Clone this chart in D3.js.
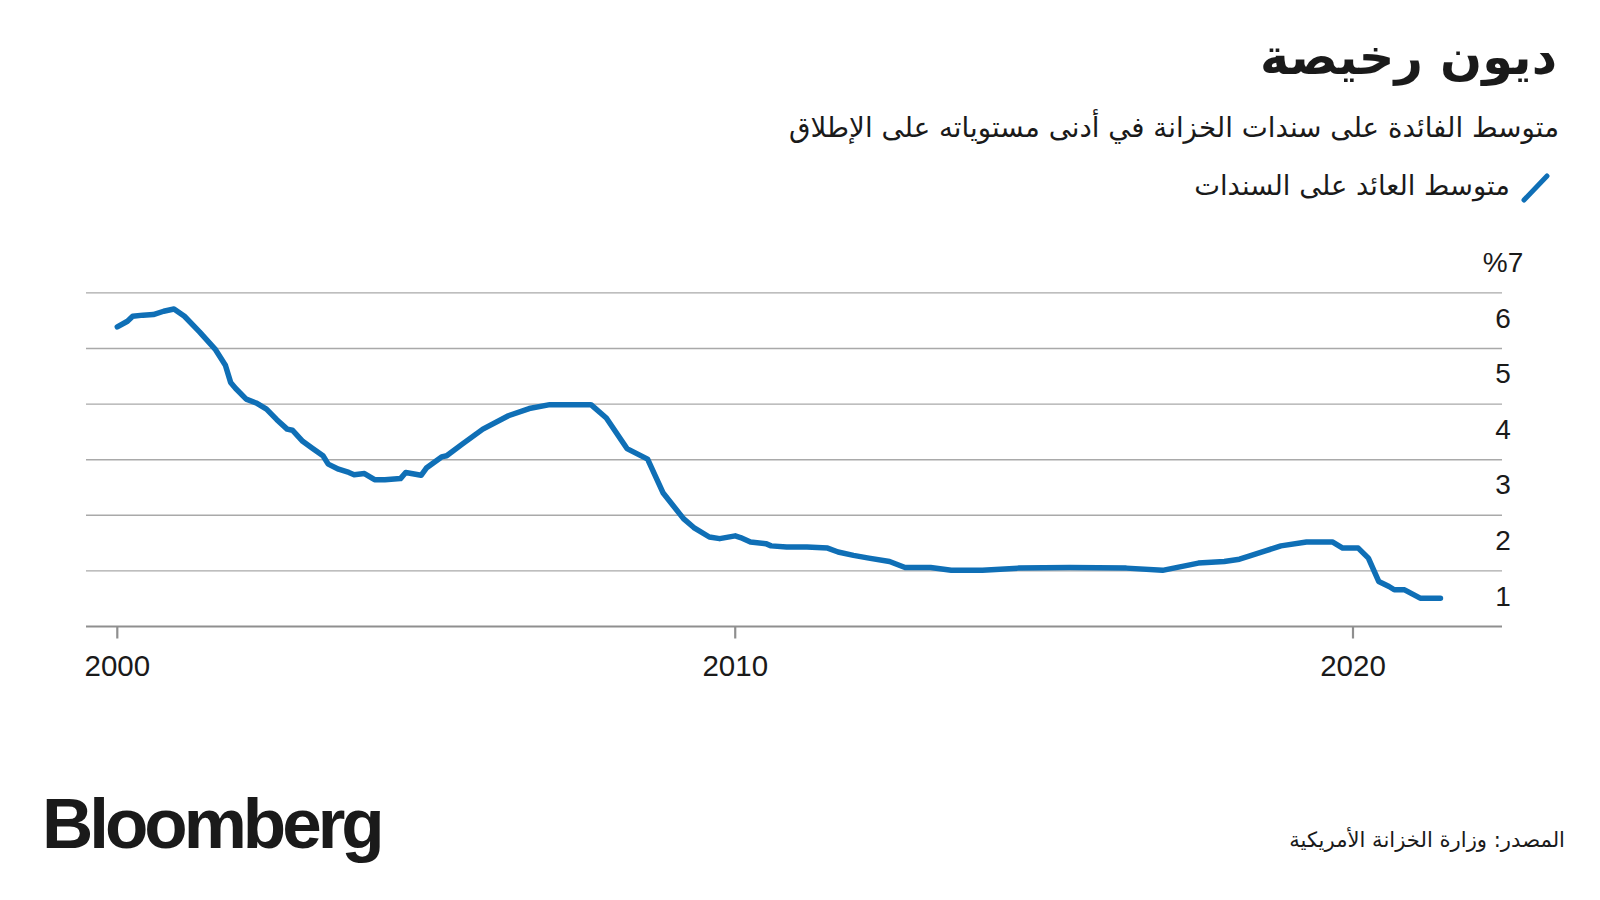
<!DOCTYPE html>
<html>
<head>
<meta charset="utf-8">
<script src="https://cdn.jsdelivr.net/npm/d3@7"></script>
<style>
  html, body { margin: 0; padding: 0; background: #fff; }
  svg { display: block; }
</style>
</head>
<body>
<svg id="chart" width="1600" height="900"></svg>
<script>
// ---- Data ----
const dates = [
  "2000-01","2000-03","2000-04","2000-06","2000-08","2000-10","2000-12",
  "2001-02","2001-05","2001-08","2001-10","2001-11","2001-12",
  "2002-02","2002-04","2002-06","2002-08","2002-10","2002-11",
  "2003-01","2003-03","2003-05","2003-06","2003-08","2003-10","2003-11",
  "2004-01","2004-03","2004-05","2004-08","2004-09","2004-12",
  "2005-01","2005-04","2005-05","2005-08","2005-12",
  "2006-05","2006-09",
  "2007-01","2007-05","2007-09","2007-12",
  "2008-04","2008-08","2008-11",
  "2009-03","2009-05","2009-08","2009-10",
  "2010-01","2010-02","2010-04","2010-07","2010-08","2010-11",
  "2011-03","2011-07","2011-09","2011-12",
  "2012-03","2012-07","2012-10",
  "2013-03","2013-07",
  "2014-01","2014-08",
  "2015-06",
  "2016-05","2016-12",
  "2017-07","2017-12",
  "2018-03","2018-05","2018-08","2018-11",
  "2019-04","2019-09","2019-11",
  "2020-02","2020-04","2020-06","2020-08","2020-09","2020-11",
  "2021-02","2021-06"
];
const values = [
  6.39,6.49,6.58,6.60,6.61,6.67,6.71,
  6.58,6.30,5.99,5.70,5.39,5.28,
  5.09,5.02,4.91,4.72,4.55,4.53,
  4.33,4.20,4.07,3.92,3.83,3.77,3.73,
  3.75,3.64,3.64,3.66,3.77,3.72,
  3.85,4.05,4.07,4.28,4.55,
  4.79,4.92,
  4.99,4.99,4.99,4.75,
  4.20,4.01,3.40,
  2.94,2.78,2.61,2.58,
  2.63,2.60,2.52,2.49,2.45,2.43,
  2.43,2.41,2.34,2.28,
  2.23,2.17,2.06,
  2.06,2.01,
  2.01,2.05,
  2.06,
  2.05,2.01,
  2.14,2.17,
  2.21,2.27,2.36,2.45,
  2.52,2.52,2.41,
  2.41,2.23,1.81,1.72,1.66,1.66,
  1.51,1.51
];
const yTicks = [1, 2, 3, 4, 5, 6, 7];
const xTickYears = ["2000", "2010", "2020"];

const title = "ديون رخيصة";
const subtitle = "متوسط الفائدة على سندات الخزانة في أدنى مستوياته على الإطلاق";
const legendLabel = "متوسط العائد على السندات";
const sourceText = "المصدر: وزارة الخزانة الأمريكية";

// ---- Layout ----
const svg = d3.select("#chart");
const parse = d3.timeParse("%Y-%m");
const data = dates.map((d, i) => ({ date: parse(d), value: values[i] }));

const x = d3.scaleTime()
  .domain([parse("2000-01"), parse("2020-01")])
  .range([117.3, 1353]);
const y = d3.scaleLinear().domain([1, 7]).range([626.5, 292.9]);

const gridLeft = 86, gridRight = 1502;
const arabicFont = "'DejaVu Sans', 'Noto Sans', sans-serif";
const numFont = "'Liberation Sans', Arial, Helvetica, sans-serif";
const blue = "#0f6fb6";
const ink = "#1a1a1a";

// gridlines
svg.append("g").selectAll("line")
  .data(yTicks)
  .join("line")
  .attr("x1", gridLeft).attr("x2", gridRight)
  .attr("y1", d => y(d)).attr("y2", d => y(d))
  .attr("stroke", d => d === 1 ? "#8f8f8f" : "#a9a9a9")
  .attr("stroke-width", d => d === 1 ? 2.2 : 1.4);

// y labels
svg.append("g").selectAll("text")
  .data(yTicks)
  .join("text")
  .attr("x", 1503)
  .attr("y", d => y(d) - 21)
  .attr("text-anchor", "middle")
  .attr("font-family", numFont)
  .attr("font-size", 28)
  .attr("fill", ink)
  .text(d => d === 7 ? "%7" : String(d));

// x ticks
const xTickDates = xTickYears.map(s => d3.timeParse("%Y")(s));
svg.append("g").selectAll("line")
  .data(xTickDates)
  .join("line")
  .attr("x1", d => x(d)).attr("x2", d => x(d))
  .attr("y1", y(1)).attr("y2", y(1) + 12)
  .attr("stroke", "#8f8f8f")
  .attr("stroke-width", 2.2);

svg.append("g").selectAll("text")
  .data(xTickDates)
  .join("text")
  .attr("x", d => x(d))
  .attr("y", 676)
  .attr("text-anchor", "middle")
  .attr("font-family", numFont)
  .attr("font-size", 29.5)
  .attr("fill", ink)
  .text(d => d3.timeFormat("%Y")(d));

// line
const line = d3.line()
  .x(d => x(d.date))
  .y(d => y(d.value));

svg.append("path")
  .datum(data)
  .attr("d", line)
  .attr("fill", "none")
  .attr("stroke", blue)
  .attr("stroke-width", 5.5)
  .attr("stroke-linejoin", "round")
  .attr("stroke-linecap", "round");

// helper: fit an Arabic text to a target width by adjusting font size
function fitText(sel, targetWidth) {
  const node = sel.node();
  const fs = parseFloat(sel.attr("font-size"));
  const w = node.getComputedTextLength();
  if (w > 0) sel.attr("font-size", fs * targetWidth / w);
  return sel;
}

// title & subtitle
fitText(svg.append("text")
  .attr("x", 1557).attr("y", 74)
  .attr("text-anchor", "end")
  .attr("font-family", arabicFont)
  .attr("font-weight", "bold")
  .attr("font-size", 46)
  .attr("fill", ink)
  .text(title), 297);

fitText(svg.append("text")
  .attr("x", 1559).attr("y", 137)
  .attr("text-anchor", "end")
  .attr("font-family", arabicFont)
  .attr("font-size", 26)
  .attr("fill", ink)
  .text(subtitle), 770);

// legend
svg.append("line")
  .attr("x1", 1524).attr("y1", 200)
  .attr("x2", 1547).attr("y2", 176)
  .attr("stroke", blue)
  .attr("stroke-width", 5)
  .attr("stroke-linecap", "round");

fitText(svg.append("text")
  .attr("x", 1510).attr("y", 195)
  .attr("text-anchor", "end")
  .attr("font-family", arabicFont)
  .attr("font-size", 26)
  .attr("fill", ink)
  .text(legendLabel), 316);

// Bloomberg logo
svg.append("text")
  .attr("x", 42).attr("y", 848)
  .attr("font-family", numFont)
  .attr("font-weight", "bold")
  .attr("font-size", 71)
  .attr("letter-spacing", -4)
  .attr("fill", ink)
  .text("Bloomberg");

// source
fitText(svg.append("text")
  .attr("x", 1565).attr("y", 847)
  .attr("text-anchor", "end")
  .attr("font-family", arabicFont)
  .attr("font-size", 21)
  .attr("fill", ink)
  .text(sourceText), 276);
</script>
</body>
</html>
